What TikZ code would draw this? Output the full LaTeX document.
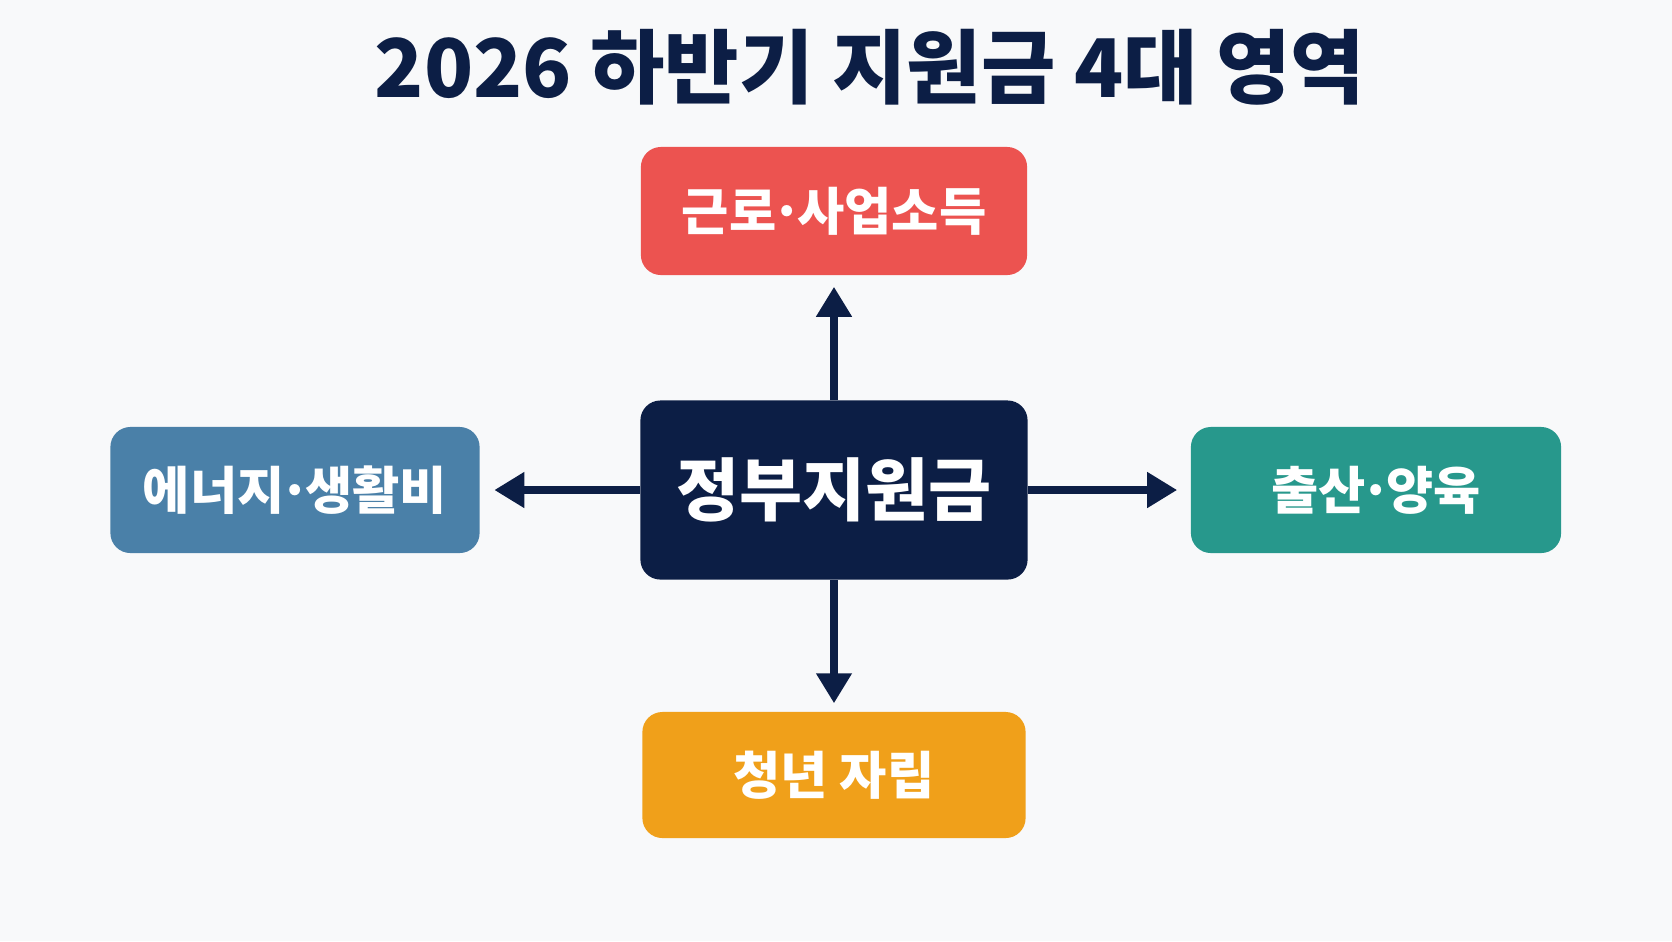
\documentclass[tikz,border=0pt]{standalone}
\usepackage{fontspec}
\setmainfont{Noto Sans CJK KR}
\usepackage{xcolor}
\definecolor{govnavy}{HTML}{0C1E45}
\definecolor{workred}{HTML}{EC5350}
\definecolor{energyblue}{HTML}{4A80A8}
\definecolor{birthteal}{HTML}{27988C}
\definecolor{youthorange}{HTML}{F0A01A}
\definecolor{bgpaper}{HTML}{F8F9FA}
\usetikzlibrary{arrows.meta,positioning}

\begin{document}
\begin{tikzpicture}[
  x=0.01cm, y=-0.01cm,
  every node/.style={align=center, text=white, inner sep=0pt, rounded corners=0.2cm},
  mainbox/.style={fill=govnavy, minimum width=3.87cm, minimum height=1.79cm, font=\fontsize{19.5}{24}\selectfont\bfseries},
  areabox/.style={minimum height=1.26cm, font=\fontsize{14.6}{18}\selectfont\bfseries},
  linkarrow/.style={-{Triangle[length=0.3cm, width=0.34cm]}, govnavy, line width=0.075cm},
]

% Background
\fill[bgpaper] (0,0) rectangle (1672,941);
\useasboundingbox (0,0) rectangle (1672,941);

% Title
\node[text=govnavy, rounded corners=0pt, font=\fontsize{23}{27}\selectfont\bfseries] (title) at (870,67) {2026 하반기 지원금 4대 영역};

% Center
\node[mainbox] (gov) at (834,490) {정부지원금};

% Four areas
\node[areabox, fill=workred, minimum width=3.86cm, minimum height=1.28cm] (work) at (834,211) {근로{\kern-0.1em}·{\kern-0.1em}사업소득};
\node[areabox, fill=energyblue, minimum width=3.69cm] (energy) at (295,490) {에너지{\kern-0.1em}·{\kern-0.1em}생활비};
\node[areabox, fill=birthteal, minimum width=3.70cm] (birth) at (1376,490) {출산{\kern-0.1em}·{\kern-0.1em}양육};
\node[areabox, fill=youthorange, minimum width=3.83cm] (youth) at (834,775) {청년 자립};

% Arrows
\draw[linkarrow, shorten >=0.11cm] (gov.north) -- (work.south);
\draw[linkarrow, shorten >=0.08cm] (gov.south) -- (youth.north);
\draw[linkarrow, shorten >=0.14cm] (gov.west) -- (energy.east);
\draw[linkarrow, shorten >=0.13cm] (gov.east) -- (birth.west);

\end{tikzpicture}
\end{document}
